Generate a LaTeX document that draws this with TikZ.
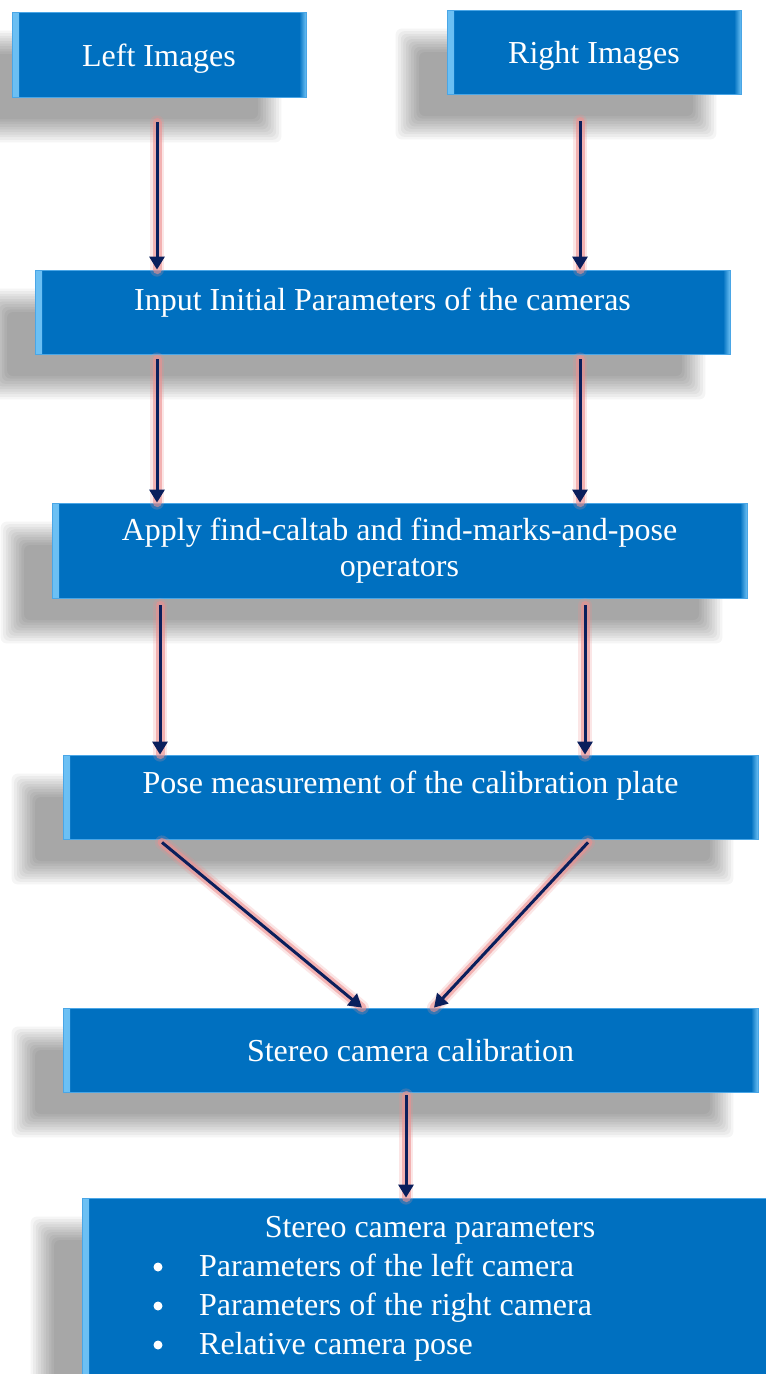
\documentclass[tikz,border=0pt]{standalone}
\usepackage{fontspec}
\setmainfont{Liberation Serif}
\usetikzlibrary{arrows.meta,calc,backgrounds}
\definecolor{boxblue}{HTML}{0070C0}
\definecolor{bevel}{HTML}{6CC0F4}
\definecolor{edgec}{HTML}{4AA6E6}
\definecolor{navy}{HTML}{0A1F5C}
\definecolor{glowc}{HTML}{EE9090}
\tikzset{
  flowbox/.style={rectangle, fill=boxblue, draw=edgec, line width=0.8pt, inner sep=0pt,
    text=white, font=\fontsize{32pt}{36pt}\selectfont, align=center,
    path picture={
      \fill[left color=bevel, right color=boxblue] (path picture bounding box.south west) rectangle ([xshift=7pt]path picture bounding box.north west);
      \fill[left color=boxblue, right color=bevel] ([xshift=-7pt]path picture bounding box.south east) rectangle (path picture bounding box.north east);
    }},
  onel/.style={text height=22pt, text depth=7pt},
  arr/.style={draw=navy, line width=3pt, -{Triangle[length=13pt,width=15pt]},
    preaction={draw=glowc, line width=14pt, -, line cap=round, opacity=0.22},
    preaction={draw=glowc, line width=9pt, -, line cap=round, opacity=0.6}},
  listtext/.style={text=white, font=\fontsize{32pt}{36pt}\selectfont, inner sep=0pt},
  bulletdot/.style={circle, fill=white, inner sep=0pt, minimum size=9pt},
  shadowlayer/.style={fill=black, opacity=0.038}
}
\newcommand\boxshadow[1]{%
  \foreach \k in {0,...,9}{%
    \pgfmathsetmacro\e{13-2.6*\k}%
    \fill[shadowlayer, rounded corners=6pt]
      ([xshift=-38pt-\e pt, yshift=-32pt-\e pt]#1.south west) rectangle
      ([xshift=-38pt+\e pt, yshift=-32pt+\e pt]#1.north east);
  }}
\begin{document}
\begin{tikzpicture}[x=1pt,y=-1pt]
\useasboundingbox (0,0) rectangle (766,1374);
\clip (0,0) rectangle (766,1374);

\node[flowbox, onel, minimum width=294pt, minimum height=85pt] (L) at (159,54.5) {\raisebox{-4pt}{Left Images}};
\node[flowbox, onel, minimum width=294pt, minimum height=84pt] (R) at (594,52) {\raisebox{-3.5pt}{Right Images}};
\node[flowbox, onel, minimum width=695pt, minimum height=84pt] (I) at (382.5,312) {\raisebox{9.5pt}{Input Initial Parameters of the cameras}};
\node[flowbox, minimum width=695pt, minimum height=95pt] (A) at (399.5,550.5) {Apply find-caltab and find-marks-and-pose\\operators};
\node[flowbox, onel, minimum width=695pt, minimum height=84pt] (P) at (410.5,797) {\raisebox{11.5pt}{Pose measurement of the calibration plate}};
\node[flowbox, onel, minimum width=695pt, minimum height=84pt] (S) at (410.5,1050) {\raisebox{-3.5pt}{Stereo camera calibration}};
\node[flowbox, minimum width=708pt, minimum height=212pt] (O) at (436,1304) {};

\node[listtext, anchor=base] (Ot) at (430,1237) {Stereo camera parameters};
\node[bulletdot] (b1) at (158,1267) {};
\node[listtext, anchor=base west] (t1) at (199,1276) {Parameters of the left camera};
\node[bulletdot] (b2) at (158,1306) {};
\node[listtext, anchor=base west] (t2) at (199,1315) {Parameters of the right camera};
\node[bulletdot] (b3) at (158,1345) {};
\node[listtext, anchor=base west] (t3) at (199,1354) {Relative camera pose};

\begin{scope}[on background layer]
  \fill[white] (0,0) rectangle (766,1374);
  \boxshadow{L}\boxshadow{R}\boxshadow{I}\boxshadow{A}\boxshadow{P}\boxshadow{S}\boxshadow{O}
\end{scope}

\draw[arr] ([xshift=-2pt,yshift=-25pt]L.south) -- ([xshift=-2pt]L.south |- I.north);
\draw[arr] ([xshift=-14pt,yshift=-27pt]R.south) -- ([xshift=-14pt]R.south |- I.north);
\draw[arr] ([xshift=-225.5pt,yshift=-5pt]I.south) -- ([xshift=-225.5pt]I.south |- A.north);
\draw[arr] ([xshift=197.5pt,yshift=-5pt]I.south) -- ([xshift=197.5pt]I.south |- A.north);
\draw[arr] ([xshift=-239.5pt,yshift=-7pt]A.south) -- ([xshift=-239.5pt]A.south |- P.north);
\draw[arr] ([xshift=185.5pt,yshift=-7pt]A.south) -- ([xshift=185.5pt]A.south |- P.north);
\draw[arr] ([xshift=-248.5pt,yshift=-3pt]P.south) -- ([xshift=-48.5pt]S.north);
\draw[arr] ([xshift=177.5pt,yshift=-3pt]P.south) -- ([xshift=23.5pt]S.north);
\draw[arr] ([xshift=-4.5pt,yshift=-3pt]S.south) -- ([xshift=-4.5pt]S.south |- O.north);
\end{tikzpicture}
\end{document}
